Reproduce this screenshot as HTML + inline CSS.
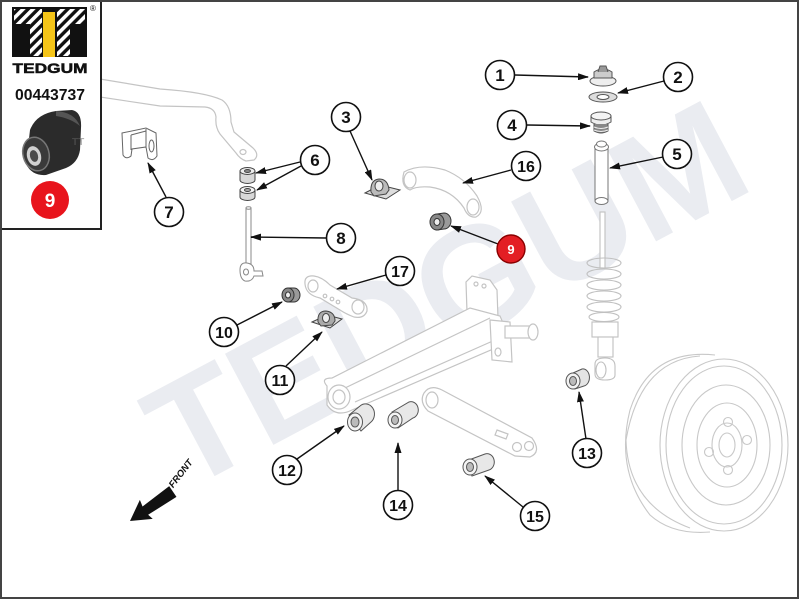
<!DOCTYPE html>
<html><head><meta charset="utf-8"><style>
html,body{margin:0;padding:0;background:#fff;}
svg{display:block;}
text{font-family:"Liberation Sans",Arial,sans-serif;}
</style></head><body>
<svg width="800" height="600" viewBox="0 0 800 600" xmlns="http://www.w3.org/2000/svg">
<defs>
<marker id="ah" markerUnits="userSpaceOnUse" markerWidth="11" markerHeight="7" refX="10" refY="3.5" orient="auto">
<path d="M0,0 L11,3.5 L0,7 z" fill="#111"/>
</marker>
<pattern id="stripes" patternUnits="userSpaceOnUse" width="7" height="7" patternTransform="rotate(45)">
<rect width="7" height="7" fill="#111"/>
<rect width="3.6" height="7" fill="#fff"/>
</pattern>
<clipPath id="tt">
<path d="M14,9 H42 V56 H30 V24 H14 Z M57,9 H85 V24 H70 V56 H57 Z"/>
</clipPath>
</defs>

<rect x="0" y="0" width="800" height="600" fill="#fff"/>

<!-- watermark -->
<text x="0" y="0" transform="translate(452,305) rotate(-28)" text-anchor="middle" dominant-baseline="middle" font-size="150" font-weight="bold" fill="#eaecf1" style="font-family:'Liberation Sans',sans-serif">TEDGUM</text>

<!-- stabilizer bar -->
<g fill="#fff" stroke="#c4c4c4" stroke-width="1.2">
<path d="M100,79 L160,89 Q205,92 222,100 Q231,106 231,122 L234,132 L253,148 Q260,155 254,160 L246,161 Q240,159 236,153 L220,134 Q215,127 216,117 Q215,108 205,107 L160,106 L100,97 Z"/>
<ellipse cx="243" cy="152" rx="3" ry="2.5"/>
</g>

<!-- part 7 bracket -->
<g fill="#fff" stroke="#666" stroke-width="1">
<path d="M122,133 L146,128 L156,133 L157,156 Q153,162 148,158 L146,147 L132,149 L131,156 Q126,160 123,155 Z"/>
<path d="M131,135 L131,150 M146,129 L146,148 M131,135 L146,131" fill="none"/>
<ellipse cx="151.5" cy="146" rx="2.5" ry="6"/>
</g>

<!-- part 6 bushings -->
<g stroke="#444" stroke-width="1">
<path d="M240,171 L240,180 A7.5,3.5 0 0 0 255,180 L255,171 Z" fill="#d8d8d8"/>
<ellipse cx="247.5" cy="171" rx="7.5" ry="3.5" fill="#ececec"/>
<ellipse cx="247.5" cy="171" rx="3" ry="1.5" fill="#888"/>
<path d="M240,190 L240,197 A7.5,3.5 0 0 0 255,197 L255,190 Z" fill="#d8d8d8"/>
<ellipse cx="247.5" cy="190" rx="7.5" ry="3.5" fill="#f2f2f2"/>
<ellipse cx="247.5" cy="190" rx="3" ry="1.5" fill="#aaa"/>
</g>

<!-- part 8 link -->
<g fill="#fff" stroke="#888" stroke-width="1">
<rect x="246" y="208" width="5" height="58"/>
<ellipse cx="248.5" cy="208" rx="2.5" ry="1.2"/>
<path d="M240,270 Q240,262 247,263 Q254,264 254,271 L262,271 L263,276 L254,276 Q252,282 245,281 Q240,279 240,270 Z"/>
<ellipse cx="246" cy="272" rx="2.5" ry="3"/>
</g>

<!-- part 3 -->
<g stroke="#444" stroke-width="1">
<path d="M365,193 L380,185 L400,190 L386,199 Z" fill="#ddd"/>
<path d="M371,192 Q370,180 379,179 Q388,179 389,190 L386,194 L374,196 Z" fill="#bbb"/>
<ellipse cx="379" cy="186" rx="4" ry="5" fill="#eee"/>
</g>

<!-- part 16 upper arm -->
<g fill="#fff" stroke="#c4c4c4" stroke-width="1.2">
<path d="M404,172 Q420,163 445,170 Q465,178 477,196 Q486,212 476,217 Q468,218 464,208 Q452,190 430,187 Q416,186 410,190 Q400,186 404,172 Z"/>
<ellipse cx="410" cy="180" rx="6" ry="8"/>
<ellipse cx="473" cy="207" rx="6" ry="8"/>
</g>

<!-- part 9 bushing -->
<g stroke="#333" stroke-width="1">
<path d="M437,214 L444,213 A7,8 0 0 1 444,229 L437,230 Z" fill="#9a9a9a"/>
<ellipse cx="437" cy="222" rx="7" ry="8" fill="#888"/>
<ellipse cx="437" cy="222" rx="3" ry="3.5" fill="#eee"/>
</g>

<!-- parts 1,2,4,5 -->
<g stroke="#555" stroke-width="1">
<ellipse cx="603" cy="81" rx="13" ry="5" fill="#eee"/>
<path d="M594,78 L594,72 Q603,66 612,72 L612,78 Z" fill="#ccc"/>
<path d="M598,72 L600,66 L606,66 L608,72" fill="#999"/>
<ellipse cx="603" cy="97" rx="14" ry="5" fill="#ddd"/>
<ellipse cx="603" cy="97" rx="6" ry="2.5" fill="#fff"/>
<path d="M591,116 L591,122 Q601,128 611,122 L611,116 Z" fill="#eee"/>
<ellipse cx="601" cy="116" rx="10" ry="4" fill="#f4f4f4"/>
<path d="M594,124 L594,131 Q601,135 608,131 L608,124" fill="#888"/>
<path d="M594,127 Q601,130 608,127 M594,130 Q601,133 608,130" fill="none" stroke="#eee"/>
</g>
<g fill="#fff" stroke="#777" stroke-width="1">
<rect x="595" y="147" width="13" height="54"/>
<ellipse cx="601.5" cy="201" rx="6.5" ry="3.5"/>
<ellipse cx="601.5" cy="147" rx="7" ry="4"/>
<ellipse cx="601.5" cy="144" rx="5" ry="3"/>
</g>

<!-- strut -->
<g fill="#fff" stroke="#c0c0c0" stroke-width="1.1">
<rect x="600" y="212" width="5" height="56"/>
<ellipse cx="604" cy="263" rx="17" ry="5" fill="none"/>
<ellipse cx="604" cy="274" rx="17" ry="5" fill="none"/>
<ellipse cx="604" cy="285" rx="17" ry="5" fill="none"/>
<ellipse cx="604" cy="296" rx="17" ry="5" fill="none"/>
<ellipse cx="604" cy="307" rx="17" ry="5" fill="none"/>
<ellipse cx="604" cy="317" rx="15" ry="4.5" fill="none"/>
<rect x="592" y="322" width="26" height="15"/>
<rect x="598" y="337" width="15" height="20"/>
<path d="M595,364 Q595,358 605,358 Q615,358 615,366 L615,375 Q615,380 605,380 Q595,380 595,374 Z"/>
<ellipse cx="601" cy="370" rx="5" ry="8"/>
</g>

<!-- part 13 bushing -->
<g stroke="#555" stroke-width="1">
<path d="M573,373 L582,369 A6,8 0 0 1 584,386 L575,389 Z" fill="#e4e4e4"/>
<ellipse cx="573" cy="381" rx="7" ry="8" fill="#f2f2f2"/>
<ellipse cx="573" cy="381" rx="3.5" ry="4.5" fill="#bbb"/>
</g>

<!-- wheel -->
<g fill="none" stroke="#c8c8c8" stroke-width="1.1">
<path d="M715,355 Q650,348 630,410 Q615,470 650,515 Q672,535 710,532" fill="#fff"/>
<path d="M700,356 Q640,360 626,440 Q628,505 690,528" />
<ellipse cx="724" cy="445" rx="64" ry="86" fill="#fff"/>
<ellipse cx="724" cy="445" rx="58" ry="79"/>
<ellipse cx="726" cy="445" rx="44" ry="60"/>
<ellipse cx="727" cy="445" rx="30" ry="42"/>
<ellipse cx="727" cy="445" rx="15" ry="22"/>
<ellipse cx="727" cy="445" rx="8" ry="12"/>
<circle cx="728" cy="422" r="4.5"/>
<circle cx="747" cy="440" r="4.5"/>
<circle cx="709" cy="452" r="4.5"/>
<circle cx="728" cy="470" r="4.5"/>
</g>

<!-- part 17 link -->
<g fill="#fff" stroke="#c4c4c4" stroke-width="1.2">
<path d="M305,284 Q304,275 314,276 Q322,277 330,285 L352,298 Q368,300 367,311 Q364,319 354,317 Q346,314 340,310 L320,298 Q306,295 305,284 Z"/>
<ellipse cx="313" cy="286" rx="5" ry="6"/>
<ellipse cx="358" cy="307" rx="6" ry="7"/>
<circle cx="325" cy="296" r="1.8"/>
<circle cx="332" cy="299" r="1.8"/>
<circle cx="338" cy="302" r="1.8"/>
</g>

<!-- part 10 -->
<g stroke="#333" stroke-width="1">
<path d="M288,288 L294,288 A6,7 0 0 1 294,302 L288,302 Z" fill="#9a9a9a"/>
<ellipse cx="288" cy="295" rx="6" ry="7" fill="#888"/>
<ellipse cx="288" cy="295" rx="2.5" ry="3" fill="#eee"/>
</g>

<!-- part 11 -->
<g stroke="#444" stroke-width="1">
<path d="M312,322 L327,315 L342,319 L330,328 Z" fill="#ddd"/>
<path d="M318,322 Q317,311 326,311 Q335,312 335,321 L332,325 L321,326 Z" fill="#aaa"/>
<ellipse cx="326" cy="318" rx="3.5" ry="4.5" fill="#eee"/>
</g>

<!-- trailing arm -->
<g fill="#fff" stroke="#c4c4c4" stroke-width="1.2">
<path d="M467,312 L466,282 L472,276 L490,280 L497,290 L498,318 Z"/>
<circle cx="476" cy="284" r="2"/>
<circle cx="484" cy="286" r="2"/>
<path d="M327,386 Q320,378 332,378 L470,308 L500,316 L506,330 L500,346 L352,410 Q336,418 327,405 Z"/>
<path d="M345,388 L490,318 M355,402 L495,340" fill="none"/>
<path d="M490,320 L510,322 L512,362 L492,360 Z"/>
<rect x="505" y="326" width="28" height="12"/>
<ellipse cx="533" cy="332" rx="5" ry="8"/>
<ellipse cx="498" cy="352" rx="3" ry="4"/>
<ellipse cx="339" cy="397" rx="11" ry="12"/>
<ellipse cx="339" cy="397" rx="6" ry="7"/>
</g>

<!-- lower arm -->
<g fill="#fff" stroke="#c4c4c4" stroke-width="1.2">
<path d="M424,393 Q430,384 442,390 L532,438 Q542,452 530,457 L515,456 L428,411 Q419,402 424,393 Z"/>
<ellipse cx="432" cy="400" rx="6" ry="8"/>
<circle cx="517" cy="447" r="4.5"/>
<circle cx="529" cy="446" r="4.5"/>
<path d="M497,430 L508,434 L506,439 L495,435 Z"/>
</g>

<!-- bushings 12, 14, 15 -->
<g stroke="#555" stroke-width="1">
<path d="M349,415 L360,406 A8,9 0 0 1 371,422 L361,431 Z" fill="#e8e8e8"/>
<ellipse cx="355" cy="422" rx="7.5" ry="9" fill="#f4f4f4"/>
<ellipse cx="355" cy="422" rx="4" ry="5" fill="#bbb"/>
<path d="M392,412 L409,402 A7,8 0 0 1 413,418 L398,428 Z" fill="#e8e8e8"/>
<ellipse cx="395" cy="420" rx="7" ry="8" fill="#f4f4f4"/>
<ellipse cx="395" cy="420" rx="3.5" ry="4.5" fill="#bbb"/>
<path d="M466,461 L485,454 A7,8 0 0 1 489,470 L472,476 Z" fill="#e8e8e8"/>
<ellipse cx="470" cy="467" rx="7" ry="8" fill="#f4f4f4"/>
<ellipse cx="470" cy="467" rx="3.5" ry="4.5" fill="#bbb"/>
</g>

<!-- FRONT arrow -->
<g transform="translate(130,521) rotate(-34)">
<polygon points="0,0 20,-12 18.5,-5 52,-7 52,6 18.5,5 20,11" fill="#111"/>
<text x="54" y="-3" font-size="9.5" font-style="italic" font-weight="bold" fill="#111" transform="rotate(-18 54 -3)">FRONT</text>
</g>

<!-- arrows -->
<g stroke="#111" stroke-width="1.4" marker-end="url(#ah)">
<line x1="515" y1="75" x2="588" y2="77"/>
<line x1="664" y1="81" x2="618" y2="93"/>
<line x1="350" y1="131" x2="372" y2="180"/>
<line x1="527" y1="125" x2="590" y2="126"/>
<line x1="663" y1="157" x2="610" y2="168"/>
<line x1="300" y1="162" x2="256" y2="173"/>
<line x1="301" y1="166" x2="257" y2="190"/>
<line x1="166" y1="197" x2="148" y2="163"/>
<line x1="326" y1="238" x2="251" y2="237"/>
<line x1="498" y1="244" x2="451" y2="226"/>
<line x1="237" y1="325" x2="282" y2="302"/>
<line x1="286" y1="366" x2="322" y2="332"/>
<line x1="297" y1="459" x2="344" y2="426"/>
<line x1="586" y1="439" x2="579" y2="392"/>
<line x1="398" y1="490" x2="398" y2="443"/>
<line x1="523" y1="507" x2="485" y2="476"/>
<line x1="511" y1="170" x2="463" y2="183"/>
<line x1="386" y1="275" x2="337" y2="289"/>
</g>

<!-- callouts -->
<g fill="#fff" stroke="#111" stroke-width="1.6">
<circle cx="500" cy="75" r="14.5"/>
<circle cx="678" cy="77" r="14.5"/>
<circle cx="346" cy="117" r="14.5"/>
<circle cx="512" cy="125" r="14.5"/>
<circle cx="677" cy="154" r="14.5"/>
<circle cx="315" cy="160" r="14.5"/>
<circle cx="169" cy="212" r="14.5"/>
<circle cx="341" cy="238" r="14.5"/>
<circle cx="224" cy="332" r="14.5"/>
<circle cx="280" cy="380" r="14.5"/>
<circle cx="287" cy="470" r="14.5"/>
<circle cx="587" cy="453" r="14.5"/>
<circle cx="398" cy="505" r="14.5"/>
<circle cx="535" cy="516" r="14.5"/>
<circle cx="526" cy="166" r="14.5"/>
<circle cx="400" cy="271" r="14.5"/>
</g>
<circle cx="511" cy="249" r="14" fill="#e31e24" stroke="#8a0000" stroke-width="1.4"/>
<g font-size="17" font-weight="bold" fill="#111" text-anchor="middle">
<text x="500" y="81">1</text>
<text x="678" y="83">2</text>
<text x="346" y="123">3</text>
<text x="512" y="131">4</text>
<text x="677" y="160">5</text>
<text x="315" y="166">6</text>
<text x="169" y="218">7</text>
<text x="341" y="244">8</text>
</g>
<g font-size="16" font-weight="bold" fill="#111" text-anchor="middle">
<text x="224" y="338">10</text>
<text x="280" y="386">11</text>
<text x="287" y="476">12</text>
<text x="587" y="459">13</text>
<text x="398" y="511">14</text>
<text x="535" y="522">15</text>
<text x="526" y="172">16</text>
<text x="400" y="277">17</text>
</g>
<text x="511" y="254" font-size="13" font-weight="bold" fill="#fff" text-anchor="middle">9</text>

<!-- logo box -->
<rect x="1" y="1" width="100" height="228" fill="#fff" stroke="#222" stroke-width="2"/>
<rect x="12" y="7" width="75" height="50" fill="#111"/>
<rect x="12" y="7" width="75" height="50" fill="url(#stripes)" clip-path="url(#tt)"/>
<rect x="43" y="12" width="12" height="45" fill="#f5c518"/>
<text x="93" y="11" font-size="8" fill="#111" text-anchor="middle">®</text>
<text x="50" y="73" font-size="14" font-weight="bold" fill="#111" text-anchor="middle" textLength="75" lengthAdjust="spacingAndGlyphs" stroke="#111" stroke-width="0.5">TEDGUM</text>
<text x="50" y="100" font-size="16" font-weight="bold" fill="#111" text-anchor="middle" textLength="70" lengthAdjust="spacingAndGlyphs">00443737</text>
<!-- bushing photo -->
<path d="M30,130 Q36,114 56,111 L72,110 Q82,112 81,128 L80,150 Q78,163 66,168 L46,175 Q32,176 26,164 Z" fill="#2b2b2b"/>
<path d="M56,111 Q74,112 80,126 Q70,118 56,116 Z" fill="#555"/>
<ellipse cx="36" cy="154" rx="13" ry="17" transform="rotate(-15 36 154)" fill="#3a3a3a" stroke="#777" stroke-width="1.5"/>
<ellipse cx="34" cy="156" rx="7" ry="10" transform="rotate(-15 34 156)" fill="#d0d0d0"/>
<ellipse cx="34" cy="156" rx="4" ry="6" transform="rotate(-15 34 156)" fill="#4a4a4a"/>
<text x="72" y="145" font-size="10" font-weight="bold" fill="#666" opacity="0.5">TT</text>
<circle cx="50" cy="200" r="19" fill="#e8141c"/>
<text x="50" y="207" font-size="19" font-weight="bold" fill="#fff" text-anchor="middle">9</text>

<!-- outer frame -->
<rect x="1" y="1" width="797" height="597" fill="none" stroke="#444" stroke-width="2"/>
</svg>
</body></html>
